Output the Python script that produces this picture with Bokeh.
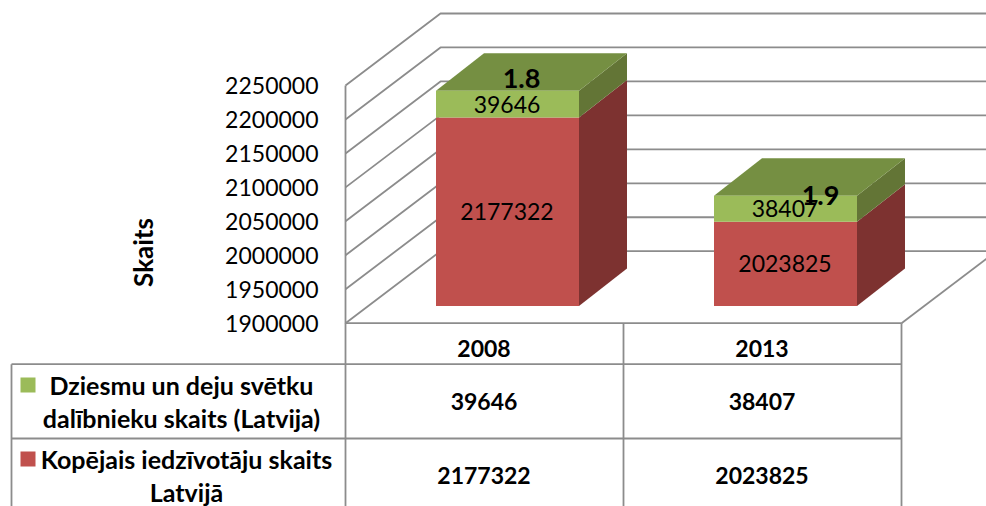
from math import pi
from bokeh.plotting import figure
from bokeh.models import Range1d, LinearAxis, FixedTicker
from bokeh.core.properties import value
from bokeh.embed import file_html
from bokeh.resources import INLINE

# ---- data ----
years = ["2008", "2013"]
population = [2177322, 2023825]
participants = [39646, 38407]
share = [1.8, 1.9]
series_names = [["Dziesmu un deju svētku", "dalībnieku skaits (Latvija)"],
                ["Kopējais iedzīvotāju skaits", "Latvijā"]]
axis_ticks = [1900000, 1950000, 2000000, 2050000, 2100000, 2150000, 2200000, 2250000]
axis_title = "Skaits"

# ---- geometry / styles ----
W, H = 986, 506
AX_X, AX_R = 345.0, 901.0
Y_MIN_PX, Y_MAX_PX = 322.7, 85.0
PX_PER_UNIT = (Y_MIN_PX - Y_MAX_PX) / (axis_ticks[-1] - axis_ticks[0])
WALL_DX, WALL_DY = 95.0, 72.0
BAR_W = 143.0
BAR_SHIFT = 23.0          # front of bars, in px, from the front of the floor
BAR_DX, BAR_DY = 48.0, 37.5
BAR_LIFT = 17.3
FONT = value("Lato")
FS = "23px"
GRID = "#8c8c8c"
LW = 1.8
RED, RED_SIDE = "#C0504D", "#7D3230"
GREEN, GREEN_SIDE, GREEN_TOP = "#9BBB59", "#637536", "#758F42"


def val(px):
    return axis_ticks[0] + (Y_MIN_PX - px) / PX_PER_UNIT


def up(px):
    return px / PX_PER_UNIT


p = figure(width=W, height=H, output_backend="svg", toolbar_location=None,
           x_range=Range1d(0, W), y_range=Range1d(val(H), val(0)),
           min_border=0, outline_line_color=None, x_axis_type=None, y_axis_type=None)
p.grid.visible = False
p.background_fill_color = "white"
p.border_fill_color = "white"
p.extra_y_ranges = {"px": Range1d(H, 0)}

base = axis_ticks[0]

# walls
for t in axis_ticks:
    p.line([AX_X, AX_X + WALL_DX, W + 2], [t, t + up(WALL_DY), t + up(WALL_DY)],
           line_color=GRID, line_width=LW)
p.line([AX_R, AX_R + WALL_DX], [base, base + up(WALL_DY)], line_color=GRID, line_width=LW)

# bars
slot = (AX_R - AX_X) / len(years)
for i, yr in enumerate(years):
    cx = AX_X + slot * (i + 0.5) + BAR_SHIFT
    x0, x1 = cx - BAR_W / 2, cx + BAR_W / 2
    y0 = base + up(BAR_LIFT)
    y1 = population[i] + up(BAR_LIFT)
    y2 = population[i] + participants[i] + up(BAR_LIFT)
    dy = up(BAR_DY)
    p.patch([x1, x1 + BAR_DX, x1 + BAR_DX, x1], [y0, y0 + dy, y1 + dy, y1], fill_color=RED_SIDE, line_color=None)
    p.patch([x1, x1 + BAR_DX, x1 + BAR_DX, x1], [y1, y1 + dy, y2 + dy, y2], fill_color=GREEN_SIDE, line_color=None)
    p.patch([x0, x0 + BAR_DX, x1 + BAR_DX, x1], [y2, y2 + dy, y2 + dy, y2], fill_color=GREEN_TOP, line_color=None)
    p.quad(left=[x0], right=[x1], bottom=[y0], top=[y1], fill_color=RED, line_color=None)
    p.quad(left=[x0], right=[x1], bottom=[y1], top=[y2], fill_color=GREEN, line_color=None)
    p.text([cx - 0.5], [(y0 + y1) / 2], text=[str(population[i])], text_font=FONT, text_font_size=FS,
           text_align="center", text_baseline="middle", text_color="black")
    p.text([cx - 0.5], [(y1 + y2) / 2], text=[str(participants[i])], text_font=FONT, text_font_size=FS,
           text_align="center", text_baseline="middle", text_color="black")

# share labels (misplaced in the original)
for lx, ly, s in zip([521, 820], [77.5, 194.5], share):
    p.text([lx], [ly], text=[str(s)], y_range_name="px", text_font=FONT, text_font_size="27px",
           text_font_style="bold", text_align="center", text_baseline="middle", text_color="black")

# table grid
ROW1, ROW2, BOTTOM = 363.7, 438.0, H + 2
TABLE_L = 11.0
for xs, ys in [([AX_X, AX_R], [Y_MIN_PX, Y_MIN_PX]),
               ([TABLE_L, AX_R], [ROW1, ROW1]),
               ([TABLE_L, AX_R], [ROW2, ROW2]),
               ([TABLE_L, TABLE_L], [ROW1, BOTTOM]),
               ([AX_X, AX_X], [Y_MIN_PX, BOTTOM]),
               ([(AX_X + AX_R) / 2] * 2, [Y_MIN_PX, BOTTOM]),
               ([AX_R, AX_R], [Y_MIN_PX, BOTTOM])]:
    p.line(xs, ys, y_range_name="px", line_color=GRID, line_width=LW)


def tbl(x, y, s, fs=FS):
    p.text([x], [y], text=[s], y_range_name="px", text_font=FONT, text_font_size=fs,
           text_font_style="bold", text_align="center", text_baseline="middle", text_color="black")


for i, yr in enumerate(years):
    cx = AX_X + slot * (i + 0.5)
    tbl(cx - 0.5, 348, yr)
    tbl(cx - 0.5, 400.5, str(participants[i]))
    tbl(cx - 0.5, 475, str(population[i]))

tbl(181, 384, series_names[0][0], "25px")
tbl(181, 417.7, series_names[0][1], "25px")
tbl(186, 458, series_names[1][0], "25px")
tbl(186, 491.5, series_names[1][1], "25px")
p.quad(left=[20], right=[35], top=[377], bottom=[392], y_range_name="px", fill_color=GREEN, line_color=None)
p.quad(left=[20], right=[35], top=[451], bottom=[466], y_range_name="px", fill_color=RED, line_color=None)

p.text([142], [252], text=[axis_title], y_range_name="px", angle=pi / 2, text_font=FONT,
       text_font_size="26px", text_font_style="bold", text_align="center", text_baseline="middle",
       text_color="black")

# value axis
ax = LinearAxis(fixed_location=AX_X, ticker=FixedTicker(ticks=axis_ticks))
ax.bounds = (axis_ticks[0], axis_ticks[-1])
ax.axis_line_color = GRID
ax.axis_line_width = LW
ax.major_tick_line_color = None
ax.minor_tick_line_color = None
ax.major_tick_in = 0
ax.major_tick_out = 0
ax.major_label_standoff = 27
ax.major_label_text_font = "Lato"
ax.major_label_text_font_size = FS
ax.major_label_text_color = "black"
ax.formatter.use_scientific = False
p.add_layout(ax, "left")

open("out.html", "w").write(file_html(p, INLINE))
